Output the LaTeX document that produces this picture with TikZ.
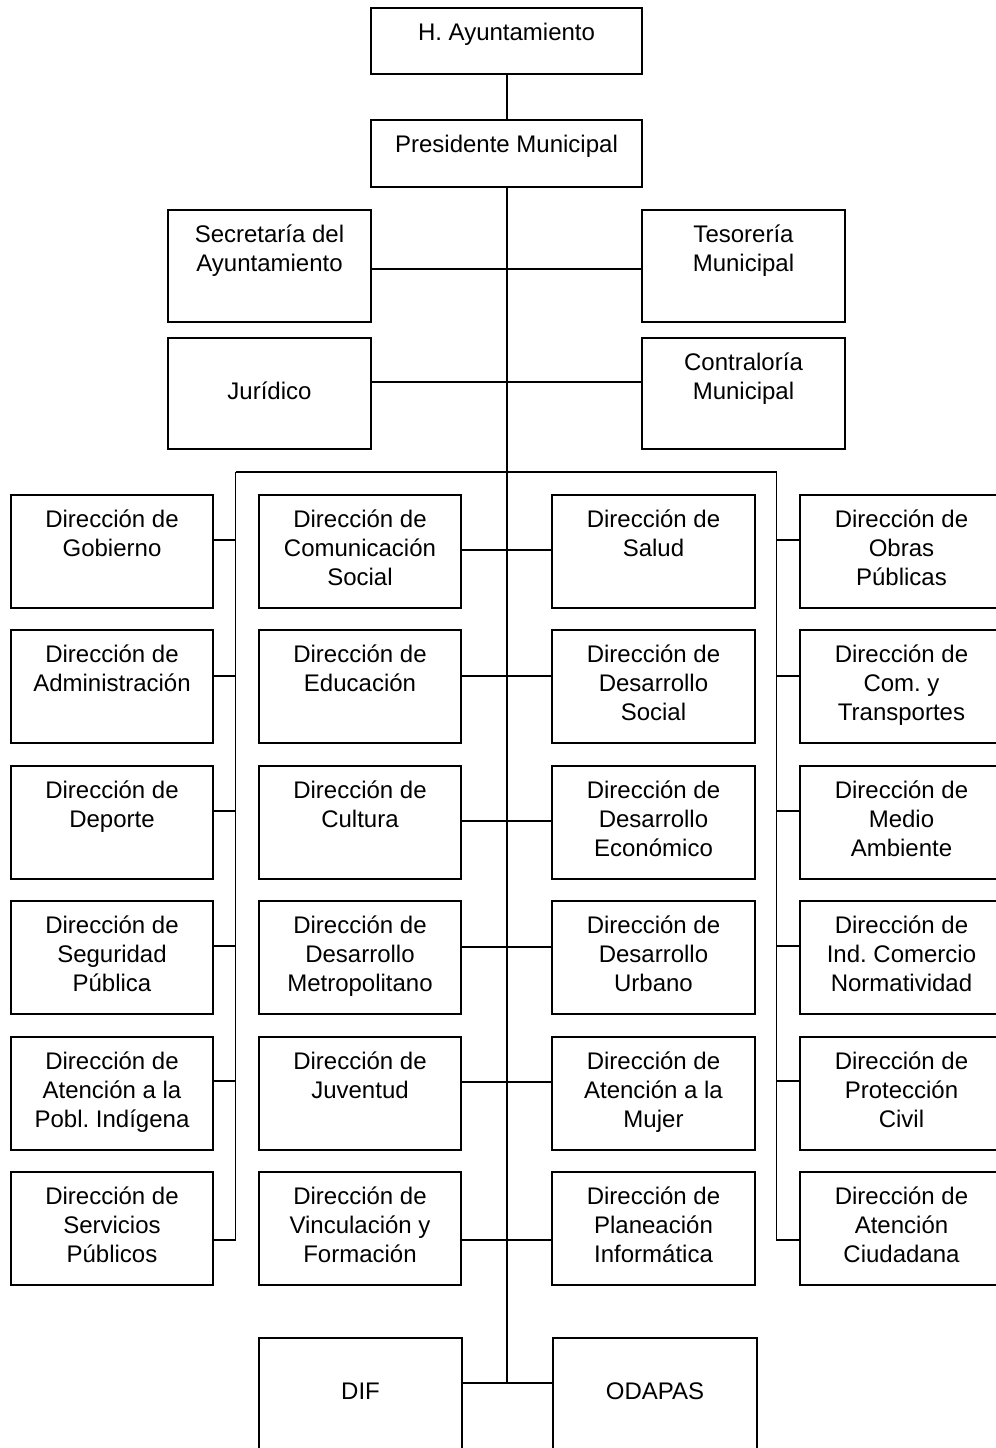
\documentclass[tikz,border=0pt]{standalone}
\usepackage{fontspec}
\setmainfont{Liberation Sans}
\frenchspacing
\tikzset{
  box/.style={draw, line width=0.9pt, inner sep=0pt, outer sep=0pt, rectangle},
  txt/.style={inner sep=0pt, outer sep=0pt, align=center, font=\fontsize{12}{14.5}\selectfont\frenchspacing},
  link/.style={line width=0.9pt}
}
% name, x1, y1, x2, y2, blank lines before text, text
\newcommand\obox[7]{%
  \node[box, minimum width={(#4-#2)*0.5pt}, minimum height={(#5-#3)*0.5pt}] (#1) at ({(#2+#4)/2},{(#3+#5)/2}) {};
  \node[txt, anchor=north] (#1t) at ([yshift={-4.4pt-#6*14.5pt}]#1.north) {\rule{0pt}{12pt}#7};
}
\begin{document}
\begin{tikzpicture}[x=0.5pt, y=-0.5pt]
\fill[white] (0,0) rectangle (996,1448);
\clip (0,0) rectangle (996,1448);
% top
\obox{ha}{371}{8}{642}{74}{0}{H. Ayuntamiento}
\obox{pm}{371}{120}{642}{187}{0}{Presidente Municipal}
\obox{sec}{168}{210}{371}{322}{0}{Secretaría del\\Ayuntamiento}
\obox{tes}{642}{210}{845}{322}{0}{Tesorería\\Municipal}
\obox{jur}{168}{338}{371}{449}{1}{Jurídico}
\obox{con}{642}{338}{845}{449}{0}{Contraloría\\Municipal}
% column 1
\obox{a1}{11}{495}{213}{608}{0}{Dirección de\\Gobierno}
\obox{a2}{11}{630}{213}{743}{0}{Dirección de\\Administración}
\obox{a3}{11}{766}{213}{879}{0}{Dirección de\\Deporte}
\obox{a4}{11}{901}{213}{1014}{0}{Dirección de\\Seguridad\\Pública}
\obox{a5}{11}{1037}{213}{1150}{0}{Dirección de\\Atención a la\\Pobl. Indígena}
\obox{a6}{11}{1172}{213}{1285}{0}{Dirección de\\Servicios\\Públicos}
% column 2
\obox{b1}{259}{495}{461}{608}{0}{Dirección de\\Comunicación\\Social}
\obox{b2}{259}{630}{461}{743}{0}{Dirección de\\Educación}
\obox{b3}{259}{766}{461}{879}{0}{Dirección de\\Cultura}
\obox{b4}{259}{901}{461}{1014}{0}{Dirección de\\Desarrollo\\Metropolitano}
\obox{b5}{259}{1037}{461}{1150}{0}{Dirección de\\Juventud}
\obox{b6}{259}{1172}{461}{1285}{0}{Dirección de\\Vinculación y\\Formación}
% column 3
\obox{c1}{552}{495}{755}{608}{0}{Dirección de\\Salud}
\obox{c2}{552}{630}{755}{743}{0}{Dirección de\\Desarrollo\\Social}
\obox{c3}{552}{766}{755}{879}{0}{Dirección de\\Desarrollo\\Económico}
\obox{c4}{552}{901}{755}{1014}{0}{Dirección de\\Desarrollo\\Urbano}
\obox{c5}{552}{1037}{755}{1150}{0}{Dirección de\\Atención a la\\Mujer}
\obox{c6}{552}{1172}{755}{1285}{0}{Dirección de\\Planeación\\Informática}
% column 4
\obox{d1}{800}{495}{1003}{608}{0}{Dirección de\\Obras\\Públicas}
\obox{d2}{800}{630}{1003}{743}{0}{Dirección de\\Com. y\\Transportes}
\obox{d3}{800}{766}{1003}{879}{0}{Dirección de\\Medio\\Ambiente}
\obox{d4}{800}{901}{1003}{1014}{0}{Dirección de\\Ind. Comercio\\Normatividad}
\obox{d5}{800}{1037}{1003}{1150}{0}{Dirección de\\Protección\\Civil}
\obox{d6}{800}{1172}{1003}{1285}{0}{Dirección de\\Atención\\Ciudadana}
% bottom
\obox{dif}{259}{1338}{462}{1450}{1}{DIF}
\obox{oda}{553}{1338}{757}{1450}{1}{ODAPAS}
% coordinates
\coordinate (busL) at (235.5,472);
\coordinate (busR) at (776.5,472);
\coordinate (busLend) at (235.5,1240);
\coordinate (busRend) at (776.5,1240);
\coordinate (cEnd) at (507,1383);
% connectors
\draw[link] (ha.south -| cEnd) -- (pm.north -| cEnd);
\draw[link] (pm.south -| cEnd) -- (cEnd);
\draw[link] (sec.east |- 0,269) -- (tes.west |- 0,269);
\draw[link] (jur.east |- 0,382) -- (con.west |- 0,382);
\draw[link] (busL) -- (busR);
\draw[link] (busL) -- (busLend) -- (a6.east |- busLend);
\draw[link] (busR) -- (busRend) -- (d6.west |- busRend);
\draw[link] (a1.east |- 0,540) -- (busL |- 0,540);
\draw[link] (a2.east |- 0,676) -- (busL |- 0,676);
\draw[link] (a3.east |- 0,811) -- (busL |- 0,811);
\draw[link] (a4.east |- 0,946) -- (busL |- 0,946);
\draw[link] (a5.east |- 0,1081) -- (busL |- 0,1081);
\draw[link] (d1.west |- 0,540) -- (busR |- 0,540);
\draw[link] (d2.west |- 0,676) -- (busR |- 0,676);
\draw[link] (d3.west |- 0,811) -- (busR |- 0,811);
\draw[link] (d4.west |- 0,946) -- (busR |- 0,946);
\draw[link] (d5.west |- 0,1081) -- (busR |- 0,1081);
\draw[link] (b1.east |- 0,550) -- (c1.west |- 0,550);
\draw[link] (b2.east |- 0,676) -- (c2.west |- 0,676);
\draw[link] (b3.east |- 0,821) -- (c3.west |- 0,821);
\draw[link] (b4.east |- 0,947) -- (c4.west |- 0,947);
\draw[link] (b5.east |- 0,1082) -- (c5.west |- 0,1082);
\draw[link] (b6.east |- 0,1240) -- (c6.west |- 0,1240);
\draw[link] (dif.east |- cEnd) -- (oda.west |- cEnd);
\end{tikzpicture}
\end{document}
